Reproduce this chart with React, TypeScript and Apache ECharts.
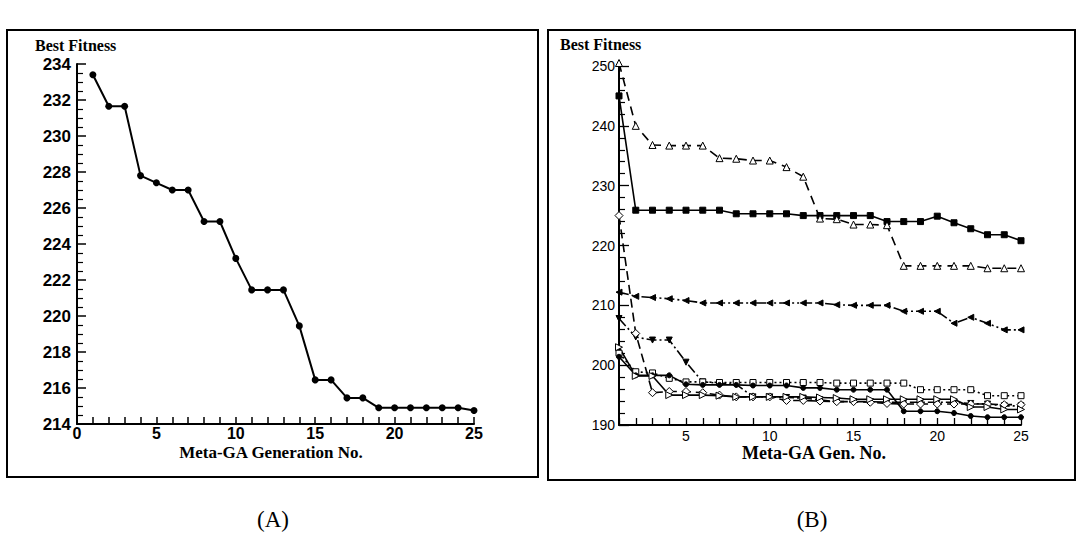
import React, { useEffect, useRef } from "react";
import * as echarts from "echarts";

// ---------- data ----------
const gens = [1, 2, 3, 4, 5, 6, 7, 8, 9, 10, 11, 12, 13, 14, 15, 16, 17, 18, 19, 20, 21, 22, 23, 24, 25];

// (A) best fitness per Meta-GA generation
const fitnessA = [233.4, 231.65, 231.65, 227.8, 227.4, 227.0, 227.0, 225.25, 225.25, 223.2, 221.45, 221.45, 221.45, 219.45, 216.45, 216.45, 215.45, 215.45, 214.9, 214.9, 214.9, 214.9, 214.9, 214.9, 214.75];

// (B) several runs
const runSquareFilled = [245.0, 225.9, 225.9, 225.9, 225.9, 225.9, 225.9, 225.3, 225.3, 225.3, 225.3, 225.0, 225.0, 225.0, 225.0, 225.0, 224.0, 224.0, 224.0, 224.9, 223.8, 222.8, 221.8, 221.8, 220.8];
const runTriangleOpen = [250.5, 240.0, 236.8, 236.7, 236.7, 236.7, 234.6, 234.5, 234.2, 234.2, 233.1, 231.5, 224.5, 224.4, 223.5, 223.5, 223.4, 216.6, 216.6, 216.6, 216.6, 216.6, 216.2, 216.2, 216.2];
const runTriangleLeft = [212.2, 211.5, 211.3, 211.1, 210.8, 210.4, 210.4, 210.4, 210.4, 210.4, 210.4, 210.4, 210.4, 210.1, 210.0, 210.0, 210.0, 209.0, 209.0, 209.0, 207.0, 208.0, 207.0, 205.9, 205.9];
const runTriangleDown = [207.8, 204.7, 204.2, 204.2, 200.5, 197.2, 197.0, 196.8, 194.7, 194.7, 194.6, 194.5, 194.2, 193.9, 193.9, 193.9, 193.8, 193.8, 193.8, 193.8, 193.8, 193.6, 193.5, 193.2, 193.2];
const runDiamondOpen = [225.0, 205.3, 195.4, 195.6, 195.6, 195.4, 195.0, 194.7, 194.7, 194.7, 194.1, 194.1, 194.0, 193.9, 193.9, 193.8, 193.6, 193.5, 193.5, 193.5, 193.5, 193.5, 193.5, 193.4, 193.4];
const runSquareOpen = [202.0, 198.9, 198.7, 197.8, 197.2, 197.2, 197.1, 197.1, 197.1, 197.1, 197.1, 197.1, 197.1, 197.0, 197.0, 197.0, 197.0, 197.0, 195.9, 195.9, 195.9, 195.9, 194.9, 194.9, 194.9];
const runCircleFilled = [201.4, 198.3, 198.3, 198.3, 196.8, 196.7, 196.7, 196.7, 196.6, 196.6, 196.6, 196.2, 196.2, 195.9, 195.9, 195.9, 195.9, 192.3, 192.3, 192.3, 192.0, 191.5, 191.3, 191.3, 191.3];
const runTriangleRight = [203.0, 198.2, 198.2, 195.0, 195.0, 195.0, 194.9, 194.7, 194.7, 194.7, 194.7, 194.7, 194.6, 194.5, 194.3, 194.3, 194.3, 194.3, 194.3, 194.3, 194.3, 193.0, 193.0, 192.6, 192.6];

const pairs = (ys: number[]) => ys.map((y, i) => [gens[i], y]);

export default function App() {
  const ref = useRef<HTMLDivElement>(null);
  useEffect(() => {
    if (!ref.current) return;
    const chart = echarts.init(ref.current, null, { renderer: "svg" });
    const black = "#000";
    const sansB = "Liberation Sans";

    const lineSeries = (
      ys: number[],
      symbol: string,
      filled: boolean,
      dash: any,
      rotate = 0,
      size = 6
    ) => ({
      type: "line",
      xAxisIndex: 1,
      yAxisIndex: 1,
      data: pairs(ys),
      symbol,
      symbolSize: size,
      symbolRotate: rotate,
      showAllSymbol: true,
      clip: false,
      lineStyle: { color: black, width: 1.6, type: dash },
      itemStyle: { color: filled ? black : "#fff", borderColor: black, borderWidth: 1 },
      z: 3,
    });

    chart.setOption({
      animation: false,
      backgroundColor: "#fff",
      grid: [
        { left: 77, top: 64, width: 397, height: 360 },
        { left: 619, top: 66, width: 402, height: 359 },
      ],
      xAxis: [
        {
          gridIndex: 0,
          type: "value",
          min: 0,
          max: 25,
          interval: 5,
          splitLine: { show: false },
          axisLine: { lineStyle: { color: black, width: 2 } },
          axisTick: { inside: true, length: 7, lineStyle: { color: black, width: 1.5 } },
          minorTick: { show: true, splitNumber: 5, length: 7, lineStyle: { color: black, width: 1.5 } },
          axisLabel: { color: black, fontFamily: sansB, fontWeight: "bold", fontSize: 16, margin: 1 },
        },
        {
          gridIndex: 1,
          type: "value",
          min: 1,
          max: 25,
          interval: 1,
          splitLine: { show: false },
          axisLine: { lineStyle: { color: black, width: 2 } },
          axisTick: { inside: true, length: 7, lineStyle: { color: black, width: 1.3 } },
          axisLabel: {
            color: black,
            fontFamily: sansB,
            fontSize: 14,
            margin: 4,
            formatter: (v: number) => (v % 5 === 0 ? String(v) : ""),
          },
        },
      ],
      yAxis: [
        {
          gridIndex: 0,
          type: "value",
          min: 214,
          max: 234,
          interval: 2,
          splitLine: { show: false },
          axisLine: { lineStyle: { color: black, width: 2 } },
          axisTick: { inside: true, length: 9, lineStyle: { color: black, width: 1.5 } },
          minorTick: { show: true, splitNumber: 4, length: 6, lineStyle: { color: black, width: 1.2 } },
          axisLabel: { color: black, fontFamily: sansB, fontWeight: "bold", fontSize: 17, margin: 6 },
        },
        {
          gridIndex: 1,
          type: "value",
          min: 190,
          max: 250,
          interval: 10,
          splitLine: { show: false },
          axisLine: { lineStyle: { color: black, width: 2 } },
          axisTick: { inside: true, length: 10, lineStyle: { color: black, width: 1.3 } },
          minorTick: { show: true, splitNumber: 5, length: 6, lineStyle: { color: black, width: 1.2 } },
          axisLabel: { color: black, fontFamily: sansB, fontSize: 14, margin: 4 },
        },
      ],
      series: [
        {
          type: "line",
          xAxisIndex: 0,
          yAxisIndex: 0,
          data: pairs(fitnessA),
          symbol: "circle",
          symbolSize: 7,
          showAllSymbol: true,
          clip: false,
          lineStyle: { color: black, width: 2 },
          itemStyle: { color: black },
        },
        lineSeries(runSquareFilled, "rect", true, "solid", 0, 6),
        lineSeries(runTriangleOpen, "triangle", false, [9, 6], 0, 7),
        lineSeries(runTriangleLeft, "triangle", true, [10, 3, 2, 3, 2, 3], 90, 6),
        lineSeries(runTriangleDown, "triangle", true, [10, 3, 2, 3], 180, 6),
        lineSeries(runDiamondOpen, "diamond", false, [9, 5], 0, 8),
        lineSeries(runSquareOpen, "rect", false, [2, 3], 0, 6),
        lineSeries(runCircleFilled, "circle", true, "solid", 0, 5),
        lineSeries(runTriangleRight, "triangle", false, "solid", -90, 7),
      ],
      graphic: [
        { type: "rect", shape: { x: 7, y: 30, width: 531, height: 447 }, style: { fill: "none", stroke: black, lineWidth: 2 } },
        { type: "rect", shape: { x: 548, y: 30, width: 527, height: 450 }, style: { fill: "none", stroke: black, lineWidth: 2 } },
        {
          type: "text",
          x: 35,
          y: 45,
          style: { text: "Best Fitness", font: 'bold 16px "Liberation Serif"', fill: black, textAlign: "left", textVerticalAlign: "middle" },
        },
        {
          type: "text",
          x: 560,
          y: 44,
          style: { text: "Best Fitness", font: 'bold 16px "Liberation Serif"', fill: black, textAlign: "left", textVerticalAlign: "middle" },
        },
        {
          type: "text",
          x: 271,
          y: 452,
          style: { text: "Meta-GA Generation No.", font: 'bold 17px "Liberation Serif"', fill: black, textAlign: "center", textVerticalAlign: "middle" },
        },
        {
          type: "text",
          x: 814,
          y: 453,
          style: { text: "Meta-GA Gen. No.", font: 'bold 18px "Liberation Serif"', fill: black, textAlign: "center", textVerticalAlign: "middle" },
        },
        {
          type: "text",
          x: 273,
          y: 519,
          style: { text: "(A)", font: '23px "Liberation Serif"', fill: black, textAlign: "center", textVerticalAlign: "middle" },
        },
        {
          type: "text",
          x: 812,
          y: 519,
          style: { text: "(B)", font: '23px "Liberation Serif"', fill: black, textAlign: "center", textVerticalAlign: "middle" },
        },
      ],
    });
    return () => chart.dispose();
  }, []);
  return (
    <div
      ref={ref}
      style={{ position: "fixed", left: 0, top: 0, width: 1077, height: 541, background: "#fff" }}
    />
  );
}
